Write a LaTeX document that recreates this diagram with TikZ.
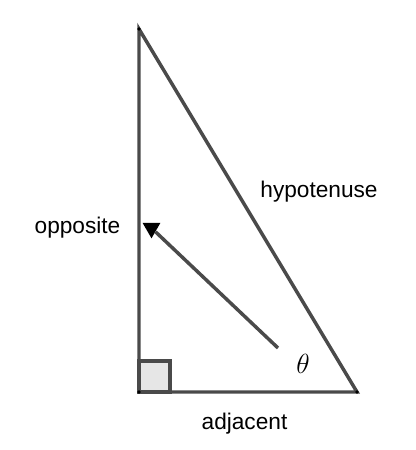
\documentclass[tikz,border=0pt]{standalone}
\usepackage{fontspec}
\setmainfont{Liberation Sans}
\usepackage{amsmath}
\usetikzlibrary{shapes.geometric}
\definecolor{edgegray}{HTML}{4A4A4A}
\definecolor{boxgray}{HTML}{E6E6E6}

\begin{document}
\begin{tikzpicture}[x=0.75pt,y=-0.75pt]
	\useasboundingbox (0,0) rectangle (416,450);
	\coordinate (A) at (139,29);
	\coordinate (B) at (139,392);
	\coordinate (C) at (357,392);
	\coordinate (tail) at (278,348);
	\begin{scope}[every path/.style={draw=edgegray,line width=2.6pt}]
		\filldraw[fill=boxgray,line width=2.3pt] (B) rectangle (170,361);
		\draw (A) -- (B) -- (C) -- cycle;
	\end{scope}
	\foreach \v in {A,B,C} \fill (\v) circle (1.8);
	\begin{scope}[every node/.style={font=\fontsize{17}{20}\selectfont}]
		\node[anchor=base] (opp) at (77.5,233) {opposite};
		\node[anchor=base] (hyp) at (319,197) {hypotenuse};
		\node[anchor=base] (adj) at (244.5,429) {adjacent};
	\end{scope}
	\node[font=\fontsize{21}{24}\selectfont] (theta) at (303,364) {$\theta$};
	\node[regular polygon,regular polygon sides=3,regular polygon rotate=180,
		fill=black,inner sep=0pt,minimum size=15.5pt] (head) at (151.5,228) {};
	\draw[edgegray,line width=2.6pt] (tail) -- (head);
\end{tikzpicture}
\end{document}
